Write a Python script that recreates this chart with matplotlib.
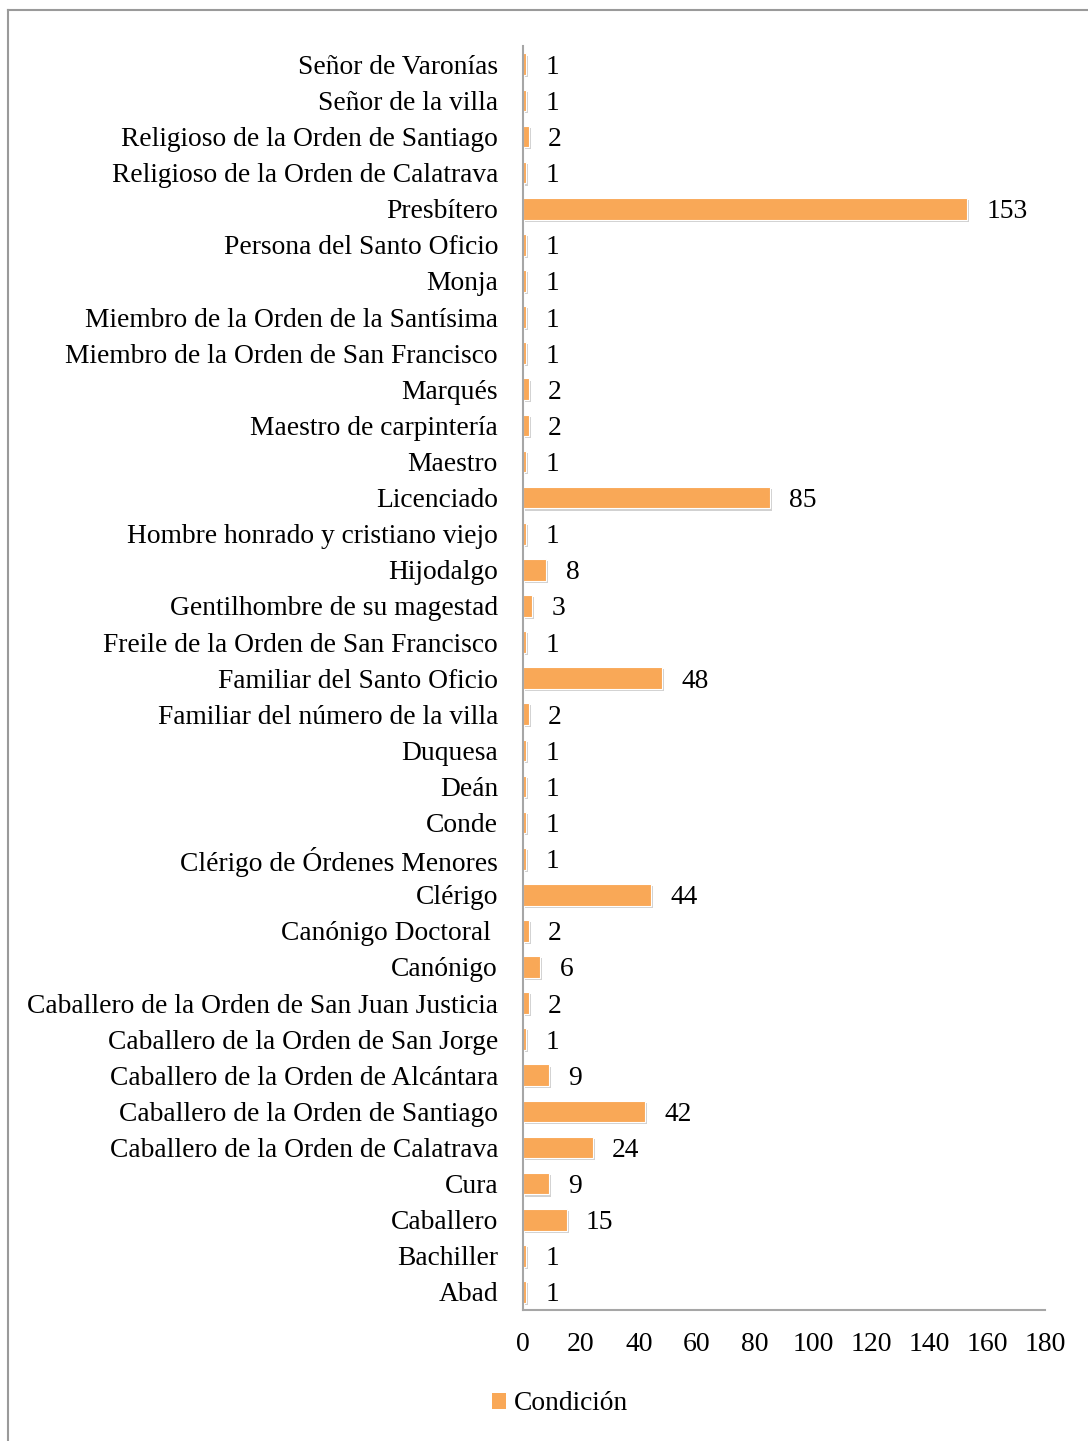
import matplotlib

matplotlib.use("Agg")
import matplotlib.pyplot as plt
import matplotlib.patheffects as pe
from matplotlib.lines import Line2D
from matplotlib.patches import Patch

# categories listed top to bottom as they appear in the chart
categories = [
    "Señor de Varonías",
    "Señor de la villa",
    "Religioso de la Orden de Santiago",
    "Religioso de la Orden de Calatrava",
    "Presbítero",
    "Persona del Santo Oficio",
    "Monja",
    "Miembro de la Orden de la Santísima",
    "Miembro de la Orden de San Francisco",
    "Marqués",
    "Maestro de carpintería",
    "Maestro",
    "Licenciado",
    "Hombre honrado y cristiano viejo",
    "Hijodalgo",
    "Gentilhombre de su magestad",
    "Freile de la Orden de San Francisco",
    "Familiar del Santo Oficio",
    "Familiar del número de la villa",
    "Duquesa",
    "Deán",
    "Conde",
    "Clérigo de Órdenes Menores",
    "Clérigo",
    "Canónigo Doctoral ",
    "Canónigo",
    "Caballero de la Orden de San Juan Justicia",
    "Caballero de la Orden de San Jorge",
    "Caballero de la Orden de Alcántara",
    "Caballero de la Orden de Santiago",
    "Caballero de la Orden de Calatrava",
    "Cura",
    "Caballero",
    "Bachiller",
    "Abad",
]
counts = [1, 1, 2, 1, 153, 1, 1, 1, 1, 2, 2, 1, 85, 1, 8, 3, 1, 48, 2, 1,
          1, 1, 1, 44, 2, 6, 2, 1, 9, 42, 24, 9, 15, 1, 1]
x_ticks = [0, 20, 40, 60, 80, 100, 120, 140, 160, 180]
series_name = "Condición"

BAR = "#F9A857"
AXIS = "#A6A6A6"
FONT = "Liberation Serif"
FS = 19.8

plt.rcParams["font.family"] = FONT
plt.rcParams["font.size"] = FS

fig = plt.figure(figsize=(10.88, 14.41), dpi=100)
ax = fig.add_axes([0.4807, 0.0909, 0.4798, 0.877])

y = range(len(categories))
bars = ax.barh(y, counts, height=0.6, color=BAR, edgecolor="white", linewidth=0.8)
for b in bars:
    b.set_path_effects([
        pe.SimplePatchShadow(offset=(1.5, -1.5), shadow_rgbFace="#999999", alpha=0.45),
        pe.Normal(),
    ])

for i, v in enumerate(counts):
    ax.annotate(str(v), xy=(v, i), xytext=(14, 0), textcoords="offset points",
                ha="left", va="center_baseline", fontsize=FS)

ax.set_yticks(list(y))
ax.set_yticklabels(categories, va="center_baseline")
ax.set_ylim(len(categories) - 0.5, -0.5)
ax.set_xlim(0, 180)
ax.set_xticks(x_ticks)
ax.tick_params(axis="both", length=0)
ax.tick_params(axis="y", pad=18)
ax.tick_params(axis="x", pad=16, labelsize=20)

for side in ("top", "right"):
    ax.spines[side].set_visible(False)
for side in ("left", "bottom"):
    ax.spines[side].set_color(AXIS)
    ax.spines[side].set_linewidth(1.5)

handle = Patch(facecolor=BAR, edgecolor="none")
fig.legend([handle], [series_name], loc="center", bbox_to_anchor=(0.515, 1 - 1404 / 1441),
           frameon=False, fontsize=FS, handlelength=0.5, handleheight=0.5,
           handletextpad=0.3)

# outer chart frame (only left and top edges visible in the crop)
fig.add_artist(Line2D([8 / 1088, 8 / 1088], [0, 1 - 10 / 1441], transform=fig.transFigure,
                      color="#9A9A9A", linewidth=1.5))
fig.add_artist(Line2D([8 / 1088, 1], [1 - 10 / 1441, 1 - 10 / 1441], transform=fig.transFigure,
                      color="#9A9A9A", linewidth=1.5))

fig.savefig("out.png", dpi=100)
